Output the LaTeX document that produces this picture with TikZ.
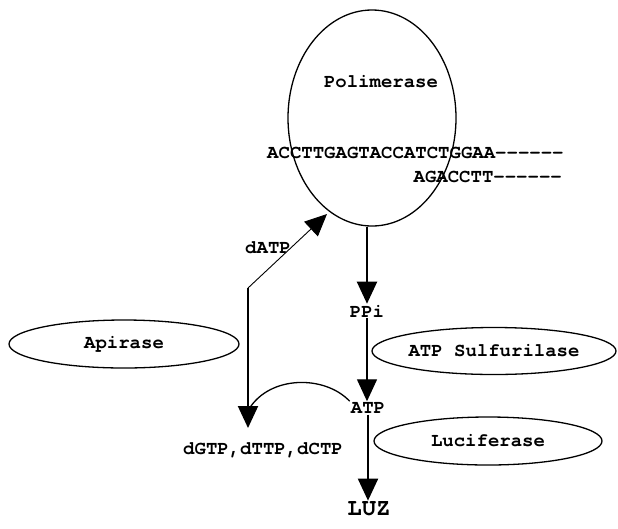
\documentclass[tikz,border=0pt]{standalone}
\usepackage{fontspec}
\setmonofont{TeX Gyre Cursor}
\usetikzlibrary{arrows.meta, shapes.geometric}

\begin{document}
\begin{tikzpicture}[
  x=1pt, y=-1pt,
  every node/.style={font=\ttfamily\bfseries\fontsize{19}{19}\selectfont, inner sep=1pt},
  enzyme/.style={draw, ellipse, line width=1.3pt, inner sep=0pt},
  >={Triangle[width=20pt, length=22pt]},
  flow/.style={->, line width=2pt},
  thin flow/.style={->, line width=1.4pt}
]
\useasboundingbox (0,0) rectangle (618,528);

% --- Polimeraza z matrycą DNA ---
\node[enzyme, minimum width=168pt, minimum height=216pt] (poli) at (372,118) {};
\node (polilabel) at (381,82) {Polimerase};
\node[anchor=west] (seqtop) at (266,153) {ACCTTGAGTACCATCTGGAA------};
\node[anchor=east] (seqbot) at (563,177) {AGACCTT------};

% --- Enzymy pomocnicze ---
\node[enzyme, minimum width=230pt, minimum height=48pt] (apir) at (124,344) {Apirase};
\node[enzyme, minimum width=244pt, minimum height=47pt] (sulf) at (494,351) {ATP Sulfurilase};
\node[enzyme, minimum width=228pt, minimum height=48pt] (luci) at (488,441) {Luciferase};

% --- Produkty reakcji ---
\node (ppi) at (367,311) {PPi};
\node (atp) at (368,408) {ATP};
\node[font=\ttfamily\bfseries\fontsize{24}{24}\selectfont] (luz) at (369,509) {LUZ};
\node (dntp) at (263,450) {dGTP,dTTP,dCTP};
\node (datp) at (268,248) {dATP};

% --- Punkty pomocnicze ---
\coordinate (bend) at (248,288);
\coordinate (dntptip) at (248,428);
\coordinate (datptip) at (327,214);
\coordinate (join) at (249,409);

% --- 1. Kaskada: PPi -> ATP -> LUZ ---
\draw[flow] (ppi.north |- poli.south) -- (ppi.north);
\draw[thin flow] (ppi.south) -- (ppi.south |- atp.north);
\draw[flow] (atp.south) -- (atp.south |- luz.north);

% --- 2. Nukleotydy (dATP do polimerazy, reszta w dół) ---
\draw[flow] (bend) -- (dntptip);
\draw[->, line width=0.9pt] (bend) -- (datptip);

% --- 3. Degradacja ATP przez apirazę ---
\draw[line width=1.3pt] (atp.north west) .. controls (325,375) and (270,375) .. (join);

\end{tikzpicture}
\end{document}
